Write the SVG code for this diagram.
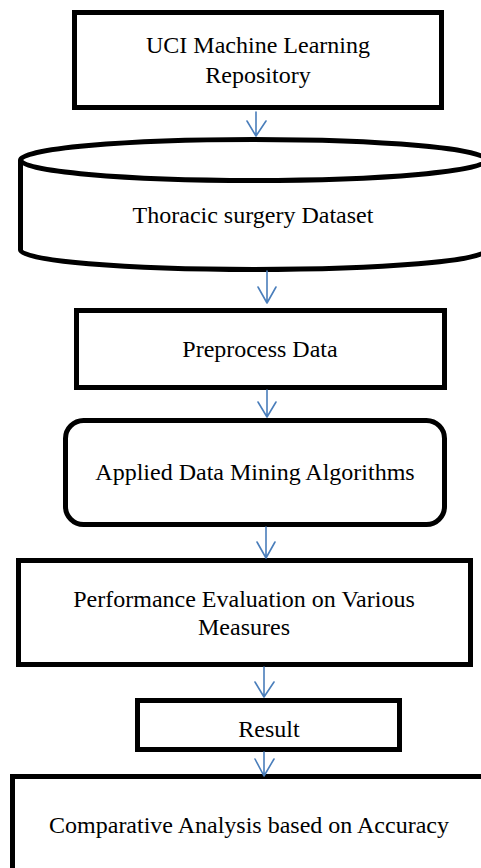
<svg xmlns="http://www.w3.org/2000/svg" width="481" height="868" viewBox="0 0 481 868">
<style>
.box{fill:#fff;stroke:#000;stroke-width:5}
.lbl{font-family:"Liberation Serif","Times New Roman",serif;font-size:24px;fill:#000;text-anchor:middle}
.arr{fill:none;stroke:#4a7ebb;stroke-width:1.6;stroke-linecap:round;stroke-linejoin:round}
</style>
<rect width="481" height="868" fill="#fff"/>
<g id="uci">
<rect class="box" x="74.5" y="12.5" width="367" height="95"/>
<text class="lbl" x="258" y="53">UCI Machine Learning</text>
<text class="lbl" x="258" y="83">Repository</text>
</g>
<g id="dataset">
<path class="box" d="M20.5,160 V250 A233,19.5 0 0 0 486.5,250 V160"/>
<ellipse class="box" cx="253.5" cy="160" rx="233" ry="20.5"/>
<text class="lbl" x="253" y="223">Thoracic surgery Dataset</text>
</g>
<g id="preprocess">
<rect class="box" x="76.5" y="310.5" width="368" height="77"/>
<text class="lbl" x="260" y="357">Preprocess Data</text>
</g>
<g id="algorithms">
<rect class="box" x="65.5" y="420.5" width="379" height="104" rx="18" ry="18"/>
<text class="lbl" x="255" y="480">Applied Data Mining Algorithms</text>
</g>
<g id="performance">
<rect class="box" x="18.5" y="560.5" width="452" height="104"/>
<text class="lbl" x="244" y="607">Performance Evaluation on Various</text>
<text class="lbl" x="244" y="635">Measures</text>
</g>
<g id="result">
<rect class="box" x="137.5" y="700.5" width="262" height="49"/>
<text class="lbl" x="269" y="737">Result</text>
</g>
<g id="comparative">
<rect class="box" x="12.5" y="776.5" width="500" height="130"/>
<text class="lbl" x="249" y="833">Comparative Analysis based on Accuracy</text>
</g>
<g id="connectors">
<path class="arr" d="M256,112 V136 M247,121 L256,136 L266,121"/>
<path class="arr" d="M267,271 V303 M258,287 L267,303 L276,287"/>
<path class="arr" d="M267,390 V417 M258,402 L267,417 L276,402"/>
<path class="arr" d="M266,527 V558 M257,542 L266,558 L275,542"/>
<path class="arr" d="M264,667 V697 M255,682 L264,697 L274,682"/>
<path class="arr" d="M264,752 V776 M255,759 L264,776 L274,759"/>
</g>
</svg>
